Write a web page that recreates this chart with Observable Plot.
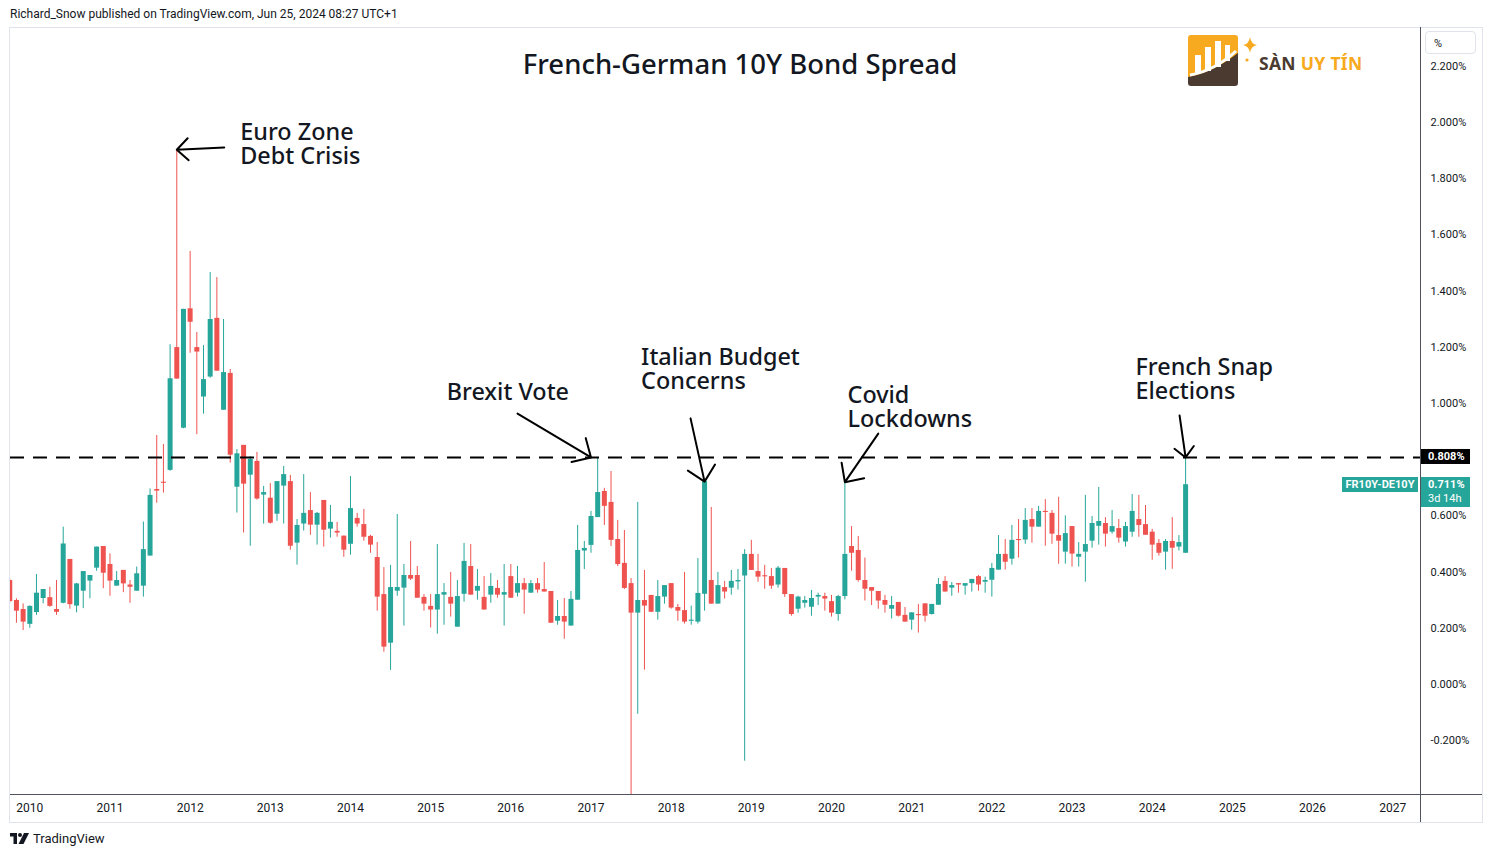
<!DOCTYPE html>
<html><head><meta charset="utf-8">
<script src="https://cdn.jsdelivr.net/npm/d3@7"></script>
<script src="https://cdn.jsdelivr.net/npm/@observablehq/plot@0.6"></script>
<style>
html,body{margin:0;padding:0;background:#fff;}
body{width:1492px;height:857px;position:relative;overflow:hidden;font-family:"Noto Sans",Roboto,sans-serif;color:#131722;}
.abs{position:absolute;}
#header{left:10px;top:5px;font-size:12px;line-height:18px;font-family:Roboto,"Noto Sans",sans-serif;color:#131722;}
#frame{left:9px;top:27px;width:1472px;height:794px;border:1px solid #e0e3eb;}
#xline{left:10px;top:794px;width:1472px;height:1px;background:#50535e;}
#yline{left:1420px;top:27px;width:1px;height:795px;background:#50535e;}
#title{left:440px;width:600px;top:46px;text-align:center;font-size:27.5px;line-height:36px;font-weight:500;font-family:"Noto Sans",sans-serif;color:#131722;}
#pct{left:1425px;top:31px;width:51px;height:23px;border:1px solid #e0e3eb;border-radius:4px;font-size:11px;line-height:23px;font-family:Roboto,sans-serif;color:#131722;box-sizing:border-box;padding-left:8px;}
.plabel{font-family:Roboto,sans-serif;font-size:11px;font-weight:700;color:#fff;box-sizing:border-box;}
#footer{left:33px;top:830px;font-size:13px;line-height:18px;font-family:Roboto,sans-serif;color:#131722;}
#logoText{left:1259px;top:52px;font-size:17.5px;line-height:22px;font-weight:700;font-family:"Noto Sans",sans-serif;letter-spacing:0.3px;}
</style></head><body>
<div id="header" class="abs">Richard_Snow published on TradingView.com, Jun 25, 2024 08:27 UTC+1</div>
<div id="frame" class="abs"></div>
<div id="chart"></div>
<div id="xline" class="abs"></div>
<div id="yline" class="abs"></div>
<div id="title" class="abs">French-German 10Y Bond Spread</div>
<div id="pct" class="abs">%</div>
<svg class="abs" style="left:1186px;top:33px" width="74" height="56" viewBox="0 0 74 56">
  <rect x="2" y="2" width="50" height="44" rx="3" fill="#f7a920"/>
  <path d="M2 44 Q26 40 52 20 L52 50 Q52 53 49 53 L5 53 Q2 53 2 50 Z" fill="#4a3a2f"/>
  <rect x="9" y="22" width="6" height="18" fill="#fff"/>
  <rect x="19" y="14" width="6" height="24" fill="#fff"/>
  <rect x="29" y="8" width="6" height="26" fill="#fff"/>
  <rect x="39" y="12" width="5" height="16" fill="#fff"/>
  <path d="M4 42 Q28 38 50 18" stroke="#fff" stroke-width="3" fill="none"/>
  <path d="M64 4 Q65 11 71 12 Q65 13 64 20 Q63 13 57 12 Q63 11 64 4 Z" fill="#f7a920"/>
  <circle cx="61" cy="27" r="1.6" fill="#f7a920"/>
</svg>
<div id="logoText" class="abs"><span style="color:#4a3a2f">SÀN</span> <span style="color:#f7a920">UY TÍN</span></div>
<svg class="abs" style="left:10px;top:833px" width="20" height="11" viewBox="0 0 20 11">
  <path d="M0 0 H7 V11 H3.5 V3.5 H0 Z" fill="#131722"/>
  <circle cx="10" cy="2" r="2" fill="#131722"/>
  <path d="M14 0 H19 L13.5 11 H8.5 Z" fill="#131722"/>
</svg>
<div id="footer" class="abs">TradingView</div>
<script>
// ---- data (monthly candles, FR10Y-DE10Y, %) ----
const months = [
"2009-10","2009-11","2009-12",
"2010-01","2010-02","2010-03","2010-04","2010-05","2010-06","2010-07","2010-08","2010-09","2010-10","2010-11","2010-12",
"2011-01","2011-02","2011-03","2011-04","2011-05","2011-06","2011-07","2011-08","2011-09","2011-10","2011-11","2011-12",
"2012-01","2012-02","2012-03","2012-04","2012-05","2012-06","2012-07","2012-08","2012-09","2012-10","2012-11","2012-12",
"2013-01","2013-02","2013-03","2013-04","2013-05","2013-06","2013-07","2013-08","2013-09","2013-10","2013-11","2013-12",
"2014-01","2014-02","2014-03","2014-04","2014-05","2014-06","2014-07","2014-08","2014-09","2014-10","2014-11","2014-12",
"2015-01","2015-02","2015-03","2015-04","2015-05","2015-06","2015-07","2015-08","2015-09","2015-10","2015-11","2015-12",
"2016-01","2016-02","2016-03","2016-04","2016-05","2016-06","2016-07","2016-08","2016-09","2016-10","2016-11","2016-12",
"2017-01","2017-02","2017-03","2017-04","2017-05","2017-06","2017-07","2017-08","2017-09","2017-10","2017-11","2017-12",
"2018-01","2018-02","2018-03","2018-04","2018-05","2018-06","2018-07","2018-08","2018-09","2018-10","2018-11","2018-12",
"2019-01","2019-02","2019-03","2019-04","2019-05","2019-06","2019-07","2019-08","2019-09","2019-10","2019-11","2019-12",
"2020-01","2020-02","2020-03","2020-04","2020-05","2020-06","2020-07","2020-08","2020-09","2020-10","2020-11","2020-12",
"2021-01","2021-02","2021-03","2021-04","2021-05","2021-06","2021-07","2021-08","2021-09","2021-10","2021-11","2021-12",
"2022-01","2022-02","2022-03","2022-04","2022-05","2022-06","2022-07","2022-08","2022-09","2022-10","2022-11","2022-12",
"2023-01","2023-02","2023-03","2023-04","2023-05","2023-06","2023-07","2023-08","2023-09","2023-10","2023-11","2023-12",
"2024-01","2024-02","2024-03","2024-04","2024-05","2024-06"];
const open = [
.370,.299,.267,
.214,.256,.306,.309,.267,.289,.445,.279,.332,.368,.414,.491,
.427,.350,.406,.354,.332,.350,.457,.694,.720,.762,1.199,.912,
1.337,1.199,1.023,1.094,1.303,.976,1.107,.702,.851,.745,.794,.674,
.663,.606,.706,.722,.503,.571,.619,.567,.655,.553,.545,.528,
.499,.591,.569,.527,.452,.320,.147,.332,.343,.388,.388,.310,
.278,.265,.318,.310,.204,.321,.420,.332,.310,.318,.342,.318,
.384,.325,.359,.325,.359,.338,.331,.225,.242,.208,.300,.475,
.495,.594,.687,.648,.516,.431,.359,.254,.299,.317,.257,.311,
.359,.274,.263,.225,.222,.321,.370,.286,.345,.343,.365,.386,
.463,.402,.387,.384,.354,.413,.320,.268,.289,.275,.311,.313,
.295,.249,.313,.491,.477,.370,.345,.331,.299,.268,.292,.246,
.229,.249,.287,.249,.282,.367,.343,.359,.350,.359,.384,.364,
.371,.407,.463,.446,.516,.514,.587,.560,.616,.609,.530,.471,
.562,.453,.471,.510,.563,.573,.542,.555,.507,.542,.587,.569,
.542,.502,.471,.509,.489,.467];
const high = [
.375,.305,.287,
.280,.391,.338,.346,.370,.560,.445,.360,.402,.388,.489,.491,
.465,.402,.406,.370,.418,.578,.696,.886,.854,1.209,1.903,1.335,
1.541,1.253,1.206,1.466,1.448,1.299,1.121,.836,.851,.811,.826,.705,
.715,.722,.776,.744,.587,.747,.683,.612,.655,.637,.577,.528,
.740,.609,.623,.531,.505,.416,.424,.605,.427,.509,.420,.320,
.320,.498,.359,.399,.370,.502,.498,.409,.384,.395,.370,.427,
.427,.420,.377,.370,.377,.434,.331,.299,.306,.331,.566,.509,
.616,.804,.698,.758,.584,.548,.377,.648,.406,.317,.370,.352,
.359,.285,.399,.279,.448,.722,.630,.399,.367,.406,.409,.480,
.513,.463,.424,.413,.420,.413,.320,.314,.313,.335,.325,.325,
.317,.317,.720,.562,.527,.450,.345,.331,.317,.313,.292,.274,
.255,.285,.287,.285,.377,.384,.363,.359,.359,.374,.388,.382,
.431,.530,.516,.566,.587,.626,.626,.634,.658,.619,.666,.600,
.562,.505,.673,.598,.701,.594,.619,.587,.577,.676,.673,.637,
.552,.516,.516,.594,.530,.809];
const low = [
.290,.218,.192,
.200,.246,.287,.275,.246,.287,.268,.255,.270,.305,.403,.341,
.314,.350,.327,.289,.332,.311,.457,.645,.681,.759,1.086,.910,
1.179,.889,.962,1.090,1.115,.976,.788,.610,.539,.492,.656,.571,
.571,.581,.571,.478,.425,.546,.531,.496,.489,.521,.524,.453,
.460,.560,.510,.467,.261,.115,.050,.314,.208,.370,.307,.261,
.201,.179,.211,.240,.204,.293,.318,.300,.265,.289,.307,.208,
.307,.311,.250,.325,.325,.329,.218,.211,.161,.208,.300,.409,
.467,.594,.566,.491,.420,.338,-.45,-.106,.051,.257,.229,.286,
.268,.225,.215,.211,.215,.261,.286,.286,.304,.318,.336,-.273,
.406,.364,.339,.339,.343,.310,.243,.254,.272,.243,.281,.261,
.240,.225,.301,.403,.364,.297,.281,.268,.254,.233,.240,.222,
.193,.183,.222,.247,.282,.329,.314,.325,.318,.329,.332,.325,
.311,.407,.407,.425,.450,.499,.503,.560,.492,.499,.428,.428,
.418,.418,.364,.485,.496,.489,.535,.503,.489,.524,.524,.531,
.442,.457,.407,.410,.475,.467];
const close = [
.295,.261,.222,
.278,.325,.338,.278,.257,.500,.284,.358,.402,.388,.489,.396,
.368,.370,.358,.346,.394,.480,.673,.688,.716,1.088,1.087,1.335,
1.289,1.183,1.085,1.299,1.115,1.110,.816,.821,.713,.801,.660,.683,
.574,.722,.747,.492,.566,.609,.567,.609,.549,.577,.539,.478,
.626,.571,.524,.496,.311,.133,.345,.345,.388,.375,.307,.286,
.265,.320,.327,.286,.313,.438,.318,.349,.265,.349,.318,.327,
.307,.359,.336,.359,.336,.329,.218,.242,.222,.303,.477,.484,
.598,.683,.634,.513,.427,.342,.254,.299,.279,.257,.313,.352,
.272,.261,.222,.229,.324,.722,.286,.352,.329,.367,.370,.463,
.406,.382,.384,.350,.414,.320,.249,.311,.299,.306,.317,.304,
.254,.313,.463,.467,.370,.339,.332,.297,.282,.281,.243,.222,
.255,.247,.243,.285,.356,.329,.352,.354,.359,.374,.354,.370,
.413,.463,.435,.513,.514,.584,.560,.616,.613,.535,.510,.537,
.464,.463,.498,.573,.580,.535,.562,.521,.562,.616,.566,.531,
.496,.467,.509,.485,.505,.711];

const yearTicks = [2010,2011,2012,2013,2014,2015,2016,2017,2018,2019,2020,2021,2022,2023,2024,2025,2026,2027];
const yTicks = [-0.2,0,0.2,0.4,0.6,1.0,1.2,1.4,1.6,1.8,2.0,2.2];
const refLevel = 0.808;
const symbol = "FR10Y-DE10Y";
const countdown = "3d 14h";

const annoLabels = ["Euro Zone\nDebt Crisis","Brexit Vote","Italian Budget\nConcerns","Covid\nLockdowns","French Snap\nElections"];
const annoMonths = ["2011-11","2017-01","2018-06","2020-03","2024-06"];
const annoValues = [1.903,0.808,0.722,0.720,0.808];

// ---- layout (not data) ----
const UP = "#26a69a", DOWN = "#ef5350";
const monthIndex = s => { const [y, m] = s.split("-").map(Number); return (y - 2010) * 12 + (m - 1); };
// annotation layout: arrow tail and text anchor, in chart units (months, %)
const annoLayout = [
  {tailX: 29.1, tailY: 1.911, textX: 31.5, textY: 1.922},
  {tailX: 73.0, tailY: 0.964, textX: 62.4, textY: 1.039},
  {tailX: 98.9, tailY: 0.947, textX: 91.5, textY: 1.121},
  {tailX: 127.0, tailY: 0.893, textX: 122.4, textY: 0.986},
  {tailX: 172.1, tailY: 0.957, textX: 165.5, textY: 1.085}
];

const rows = months.map((mo, i) => {
  const o = open[i], c = close[i];
  let hi = Math.max(o, c), lo = Math.min(o, c);
  if (hi - lo < 0.004) lo = hi - 0.004;
  return {m: monthIndex(mo), open: o, close: c, high: high[i], low: low[i], bodyHi: hi, bodyLo: lo, color: c >= o ? UP : DOWN};
});
const annos = annoLabels.map((label, i) => ({
  label, x2: monthIndex(annoMonths[i]), y2: annoValues[i],
  x1: annoLayout[i].tailX, y1: annoLayout[i].tailY, tx: annoLayout[i].textX, ty: annoLayout[i].textY
}));

const chart = Plot.plot({
  width: 1492, height: 857,
  marginLeft: 10, marginRight: 72, marginTop: 27, marginBottom: 62,
  x: {type: "linear", domain: [-2.889, 208.16]},
  y: {domain: [-0.395, 2.338]},
  color: {type: "identity"},
  style: {background: "transparent", fontFamily: "Roboto, sans-serif", color: "#131722"},
  marks: [
    Plot.ruleX(rows, {x: "m", y1: "low", y2: "high", stroke: "color", strokeWidth: 1, clip: true}),
    Plot.ruleX(rows, {x: "m", y1: "bodyLo", y2: "bodyHi", stroke: "color", strokeWidth: 5, strokeLinecap: "butt", clip: true}),
    Plot.ruleY([refLevel], {stroke: "#000", strokeWidth: 2, strokeDasharray: "14,9"}),
    Plot.arrow(annos, {x1: "x1", y1: "y1", x2: "x2", y2: "y2", stroke: "#000", strokeWidth: 2, headLength: 15, headAngle: 88}),
    Plot.text(annos, {x: "tx", y: "ty", text: "label", textAnchor: "start", lineAnchor: "middle", fontSize: 23.4, lineHeight: 1.02, fill: "#131722", fontFamily: "Noto Sans, sans-serif", fontWeight: 500}),
    Plot.axisX({ticks: yearTicks.map(y => (y - 2010) * 12), tickFormat: m => String(2010 + m / 12), tickSize: 0, tickPadding: 8, fontSize: 12, color: "#131722"}),
    Plot.axisY({anchor: "right", ticks: yTicks, tickFormat: d => d.toFixed(3) + "%", tickSize: 0, tickPadding: 10, fontSize: 11, color: "#131722", textAnchor: "start"})
  ]
});
chart.style.position = "absolute";
chart.style.left = "0px";
chart.style.top = "0px";
document.getElementById("chart").appendChild(chart);

// price labels on the right scale, positioned with the chart's own y scale
const ys = chart.scale("y");
const lastClose = close[close.length - 1];
function box(txt, left, top, w, h, bg, extra) {
  const d = document.createElement("div");
  d.className = "abs plabel";
  d.style.cssText = `left:${left}px;top:${top}px;width:${w}px;height:${h}px;background:${bg};` + (extra || "");
  d.innerHTML = txt;
  document.body.appendChild(d);
}
const yRef = ys.apply(refLevel);
box(refLevel.toFixed(3) + "%", 1421, yRef - 7.5, 49, 15, "#000", "line-height:15px;padding-left:7px;");
const yLast = ys.apply(lastClose);
box(lastClose.toFixed(3) + "%<br><span style='font-weight:400'>" + countdown + "</span>", 1421, yLast - 7, 49, 30, UP, "line-height:14px;padding-left:7px;padding-top:1px;");
box(symbol, 1342, yLast - 7, 76, 15, UP, "line-height:15px;text-align:center;");
</script>
</body></html>
